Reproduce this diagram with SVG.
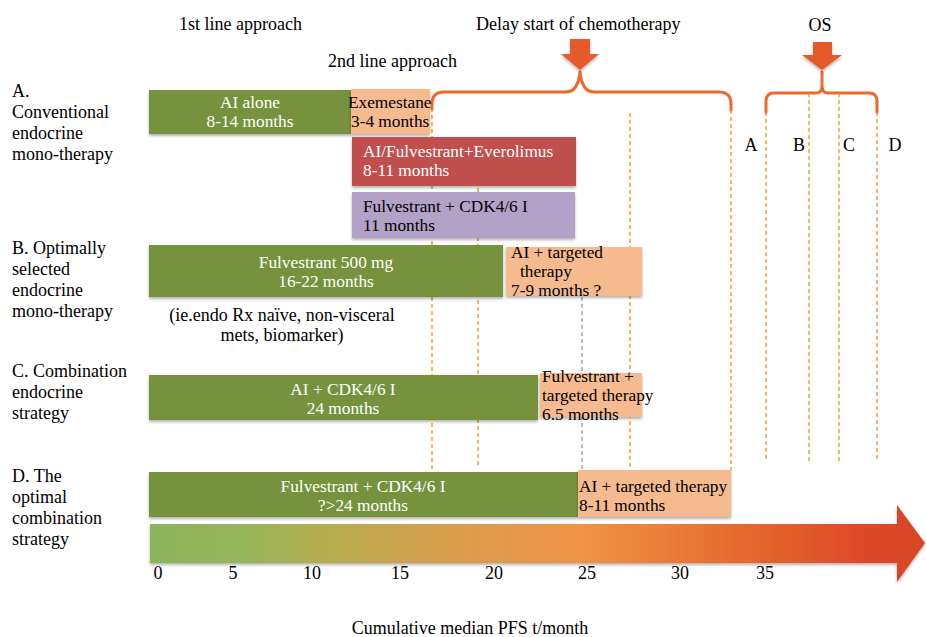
<svg xmlns="http://www.w3.org/2000/svg" width="926" height="637" viewBox="0 0 926 637">
<defs>
<style>
text{font-family:"Liberation Serif","Times New Roman",serif;font-size:18px;fill:#000}
.b{font-size:17.3px}
.w{fill:#fff}
.m{text-anchor:middle}
.green{fill:#76923C}
.peach{fill:#F5BB8F}
.red{fill:#C0504D}
.purple{fill:#B3A2C7}
.dash{stroke:#F5A030;stroke-width:1.5;stroke-dasharray:4 3;fill:none}
.gdash{stroke:#999;stroke-width:1.3;stroke-dasharray:4 3;fill:none}
.brace{stroke:#EC6A2C;stroke-width:3;fill:none;stroke-linejoin:round;stroke-linecap:round}
.arr{fill:#E55A2A}
</style>
<filter id="sh" x="-5%" y="-20%" width="110%" height="150%">
<feDropShadow dx="0" dy="2" stdDeviation="1.5" flood-color="#000" flood-opacity="0.3"/>
</filter>
<linearGradient id="grad" gradientUnits="userSpaceOnUse" x1="150" y1="0" x2="926" y2="0">
<stop offset="0" stop-color="#8DB35A"/>
<stop offset="0.12" stop-color="#96B55A"/>
<stop offset="0.21" stop-color="#B0AE50"/>
<stop offset="0.32" stop-color="#C9A24E"/>
<stop offset="0.41" stop-color="#DC9B4D"/>
<stop offset="0.55" stop-color="#EF9446"/>
<stop offset="0.65" stop-color="#EB8039"/>
<stop offset="0.74" stop-color="#E66E30"/>
<stop offset="0.84" stop-color="#E15A2A"/>
<stop offset="0.92" stop-color="#DC4A28"/>
<stop offset="1" stop-color="#D84528"/>
</linearGradient>
</defs>
<rect width="926" height="637" fill="#fff"/>

<!-- headings -->
<g id="headings">
<text x="179" y="30">1st line approach</text>
<text x="328" y="67">2nd line approach</text>
<text x="476" y="30">Delay start of chemotherapy</text>
<text x="820" y="31" class="m">OS</text>
</g>

<!-- row labels -->
<g id="label-A">
<text x="12" y="97">A.</text>
<text x="12" y="118">Conventional</text>
<text x="12" y="139">endocrine</text>
<text x="12" y="160">mono-therapy</text>
</g>
<g id="label-B">
<text x="12" y="254">B. Optimally</text>
<text x="12" y="275">selected</text>
<text x="12" y="296">endocrine</text>
<text x="12" y="317">mono-therapy</text>
</g>
<g id="label-C">
<text x="12" y="377">C. Combination</text>
<text x="12" y="398">endocrine</text>
<text x="12" y="419">strategy</text>
</g>
<g id="label-D">
<text x="12" y="482">D. The</text>
<text x="12" y="503">optimal</text>
<text x="12" y="524">combination</text>
<text x="12" y="545">strategy</text>
</g>

<!-- guide lines and braces -->
<g id="connectors">
<line class="dash" x1="432" y1="108" x2="432" y2="470"/>
<line class="dash" x1="478" y1="188" x2="478" y2="468"/>
<line class="dash" x1="630" y1="113" x2="630" y2="471"/>
<line class="dash" x1="731" y1="110" x2="731" y2="471"/>
<line class="gdash" x1="582" y1="297" x2="582" y2="471"/>
<line class="dash" x1="766" y1="112" x2="766" y2="462"/>
<line class="dash" x1="809" y1="93" x2="809" y2="462"/>
<line class="dash" x1="839" y1="93" x2="839" y2="462"/>
<line class="dash" x1="877" y1="112" x2="877" y2="462"/>
<path class="brace" d="M432,109 L432,104 Q432,92 444,92 L566,92 Q578,92 580,72 Q582,92 594,92 L719,92 Q731,92 731,104 L731,110"/>
<path class="brace" d="M766,112 L766,101 Q766,93 774,93 L816,93 Q822,93 822,86 L822,72 M822,86 Q822,93 828,93 L869,93 Q877,93 877,101 L877,112"/>
<polygon class="arr" filter="url(#sh)" points="570,39 590,39 590,54 599,54 580,70 561,54 570,54"/>
<polygon class="arr" filter="url(#sh)" points="813,42 832,42 832,55 842,55 822,70 802,55 813,55"/>
</g>

<g id="os-labels">
<text x="751" y="151" class="m">A</text>
<text x="799" y="151" class="m">B</text>
<text x="849" y="151" class="m">C</text>
<text x="895" y="151" class="m">D</text>
</g>

<!-- Row A -->
<g id="ai-alone">
<rect class="green" filter="url(#sh)" x="149" y="90" width="202" height="44"/>
<text class="b w m" x="250" y="108">AI alone</text>
<text class="b w m" x="250" y="127">8-14 months</text>
</g>
<g id="exemestane">
<rect class="peach" filter="url(#sh)" x="351" y="89" width="79" height="45"/>
<text class="b" x="348" y="108">Exemestane</text>
<text class="b" x="351" y="127">3-4 months</text>
</g>
<g id="everolimus">
<rect class="red" filter="url(#sh)" x="352" y="137" width="224" height="49"/>
<text class="b w" x="363" y="157">AI/Fulvestrant+Everolimus</text>
<text class="b w" x="363" y="176">8-11 months</text>
</g>
<g id="fulv-cdk-2nd">
<rect class="purple" filter="url(#sh)" x="352" y="192" width="223" height="46"/>
<text class="b" x="363" y="212">Fulvestrant + CDK4/6 I</text>
<text class="b" x="363" y="231">11 months</text>
</g>

<!-- Row B -->
<g id="fulvestrant-500">
<rect class="green" filter="url(#sh)" x="149" y="245" width="354" height="52"/>
<text class="b w m" x="326" y="268">Fulvestrant 500 mg</text>
<text class="b w m" x="326" y="287">16-22 months</text>
</g>
<g id="ai-targeted-B">
<rect class="peach" filter="url(#sh)" x="506" y="247" width="136" height="49"/>
<text class="b" x="511" y="258">AI + targeted</text>
<text class="b" x="520" y="277">therapy</text>
<text class="b" x="511" y="296">7-9 months ?</text>
</g>
<g id="note-B">
<text class="m" x="282" y="321">(ie.endo Rx naïve, non-visceral</text>
<text class="m" x="282" y="341">mets, biomarker)</text>
</g>

<!-- Row C -->
<g id="ai-cdk">
<rect class="green" filter="url(#sh)" x="149" y="375" width="389" height="45"/>
<text class="b w m" x="343" y="395">AI + CDK4/6 I</text>
<text class="b w m" x="343" y="414">24 months</text>
</g>
<g id="fulv-targeted-C">
<rect class="peach" filter="url(#sh)" x="540" y="373" width="102" height="44"/>
<text class="b" x="542" y="382">Fulvestrant +</text>
<text class="b" x="542" y="401">targeted therapy</text>
<text class="b" x="542" y="420">6.5 months</text>
</g>

<!-- Row D -->
<g id="fulv-cdk-D">
<rect class="green" filter="url(#sh)" x="149" y="472" width="429" height="45"/>
<text class="b w m" x="363" y="492">Fulvestrant + CDK4/6 I</text>
<text class="b w m" x="363" y="511">?&gt;24 months</text>
</g>
<g id="ai-targeted-D">
<rect class="peach" filter="url(#sh)" x="578" y="470" width="153" height="47"/>
<text class="b" x="579" y="492">AI + targeted therapy</text>
<text class="b" x="579" y="511">8-11 months</text>
</g>

<!-- time axis -->
<g id="axis">
<polygon fill="url(#grad)" filter="url(#sh)" points="150,524 897,524 897,505 925,543 897,582 897,563 150,563"/>
<text class="m" x="158" y="579">0</text>
<text class="m" x="233" y="579">5</text>
<text class="m" x="312" y="579">10</text>
<text class="m" x="400" y="579">15</text>
<text class="m" x="494" y="579">20</text>
<text class="m" x="587" y="579">25</text>
<text class="m" x="680" y="579">30</text>
<text class="m" x="765" y="579">35</text>
<text class="m" x="470" y="634">Cumulative median PFS t/month</text>
</g>
</svg>
